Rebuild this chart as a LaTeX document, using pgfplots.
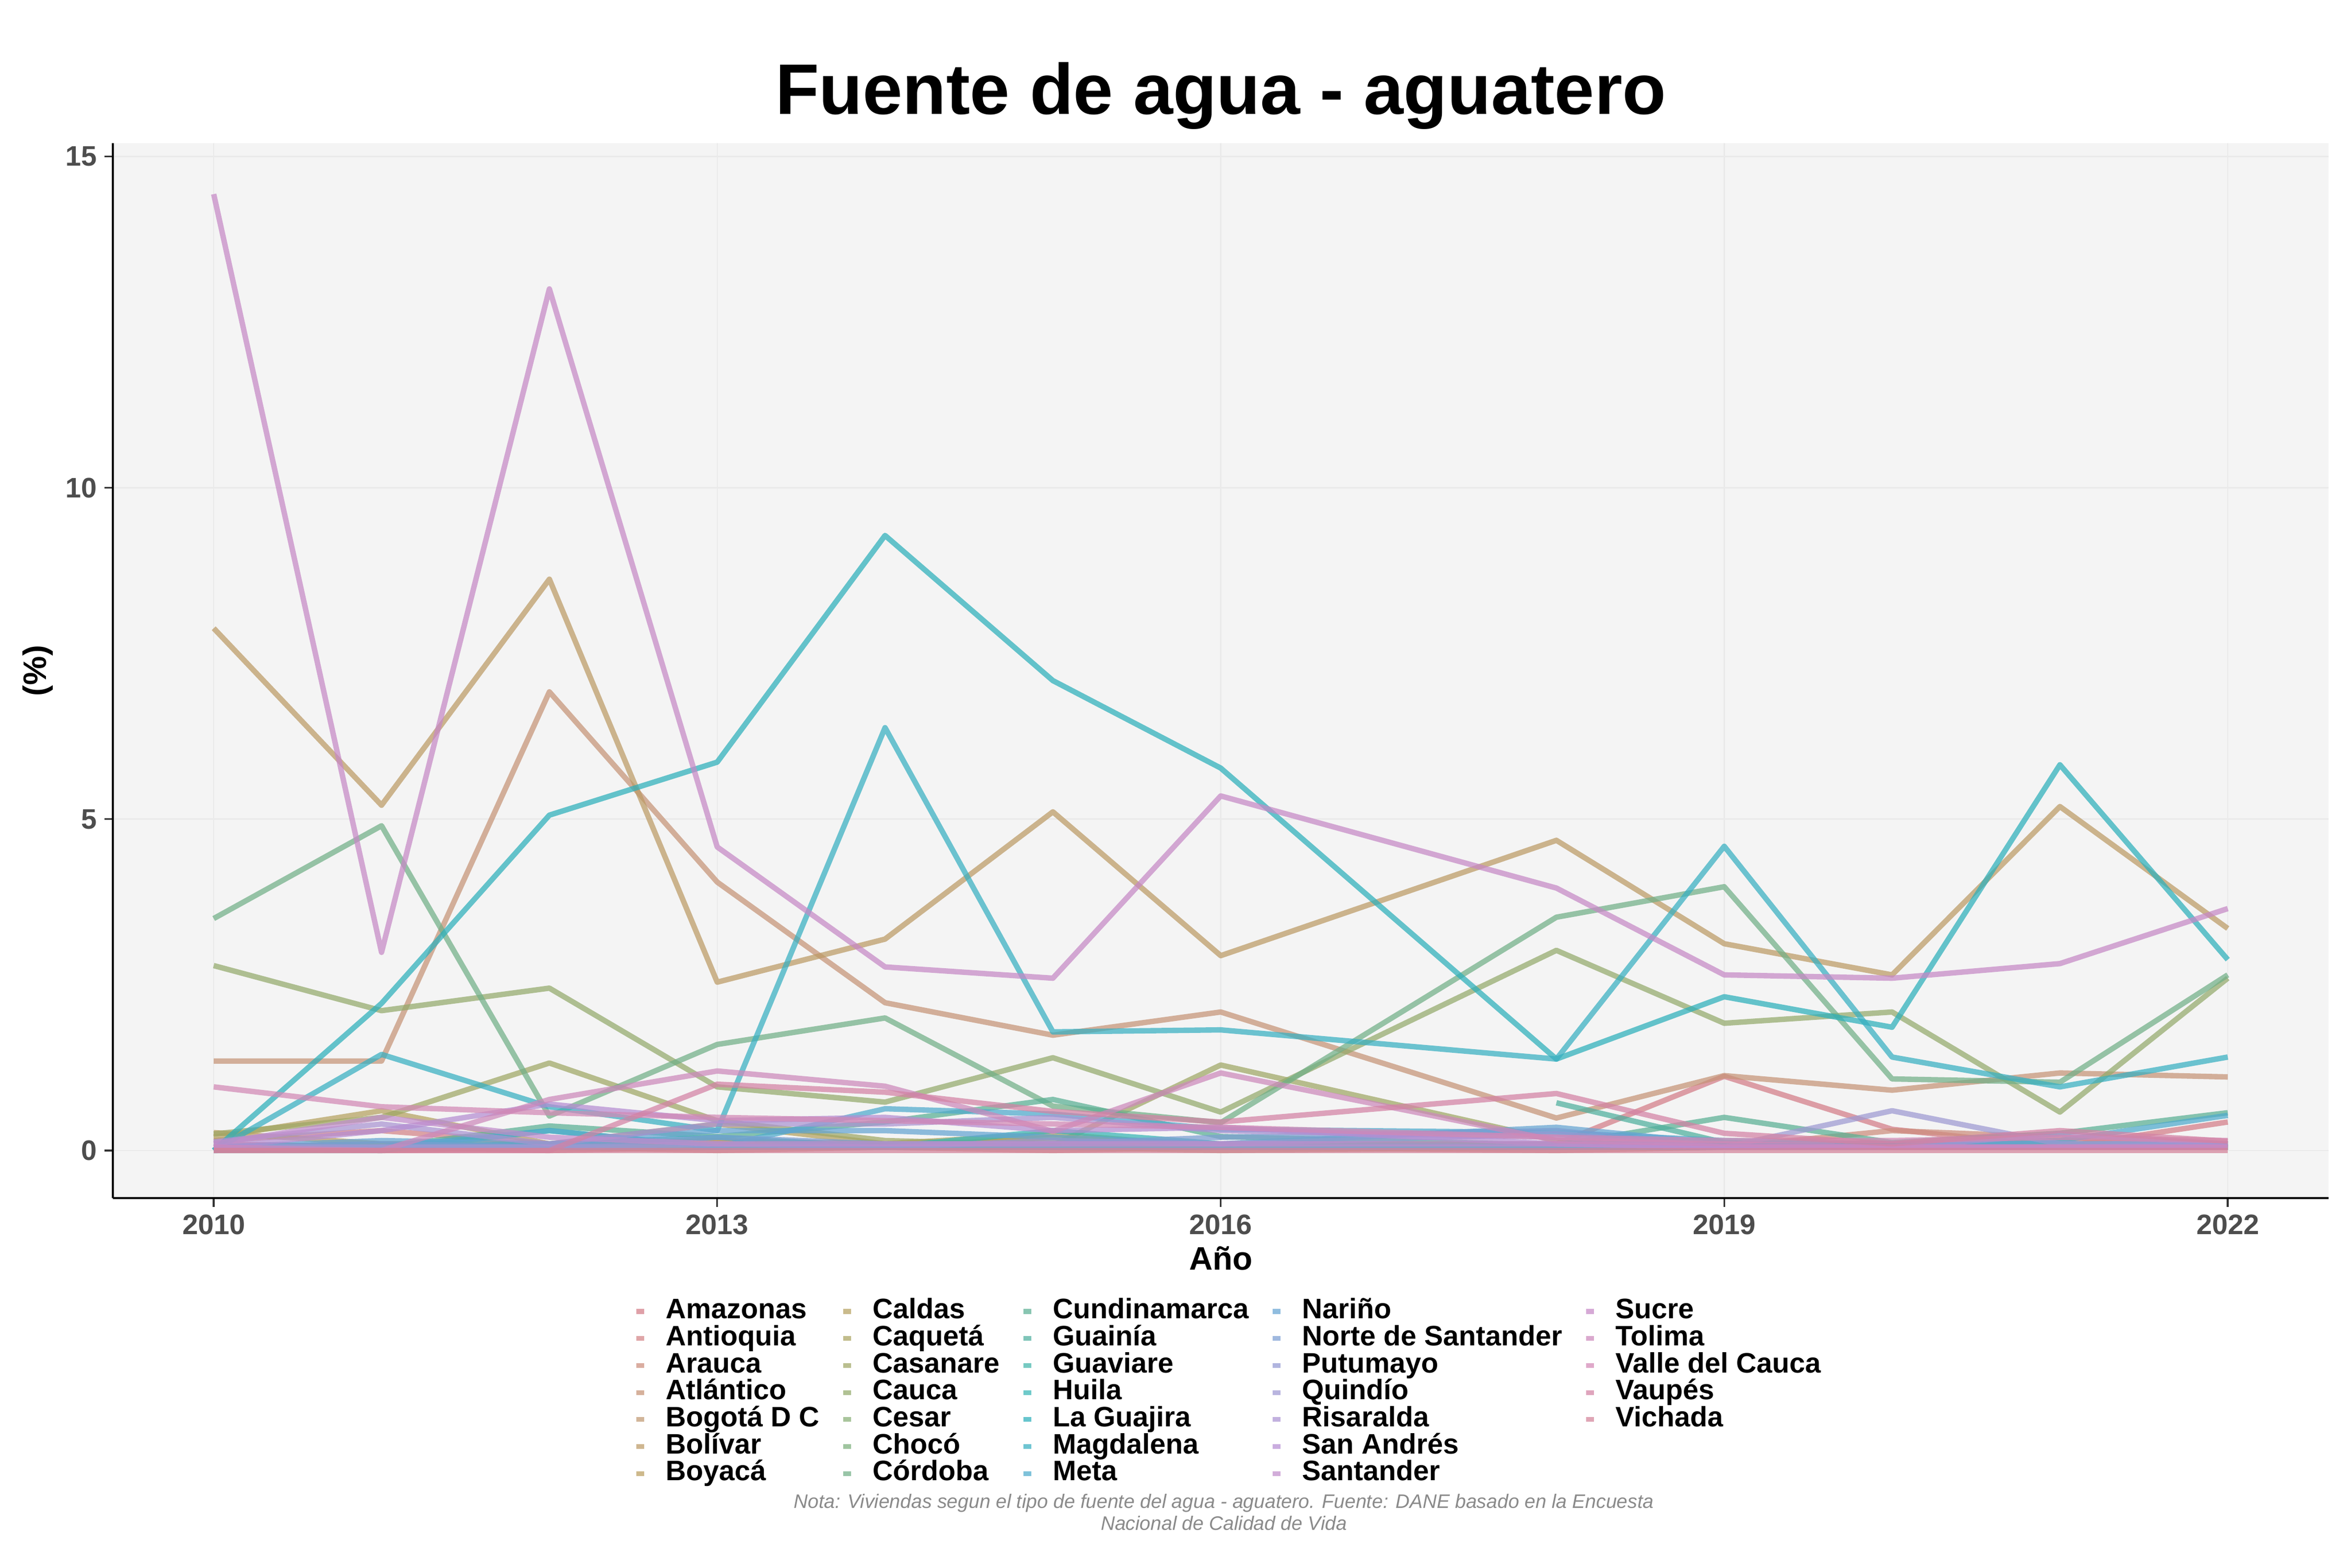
\documentclass[border=0pt]{standalone}
\usepackage{fontspec}
\setmainfont{Liberation Sans}
\usepackage{pgfplots}
\usepackage{pgfplotstable}
\pgfplotsset{compat=1.18}

\definecolor{panel}{HTML}{F4F4F4}
\definecolor{gridc}{HTML}{EAEAEA}
\definecolor{tickc}{HTML}{4D4D4D}
\definecolor{capc}{HTML}{8A8A8A}
% one colour per departamento, in legend order
\definecolor{c1}{HTML}{D37C87}
\definecolor{c2}{HTML}{D38387}
\definecolor{c3}{HTML}{CC8D7C}
\definecolor{c4}{HTML}{C69376}
\definecolor{c5}{HTML}{C19971}
\definecolor{c6}{HTML}{BC9A65}
\definecolor{c7}{HTML}{BB9E5F}
\definecolor{c8}{HTML}{B5A15F}
\definecolor{c9}{HTML}{AAA45F}
\definecolor{c10}{HTML}{9FA765}
\definecolor{c11}{HTML}{93AA6B}
\definecolor{c12}{HTML}{88AF76}
\definecolor{c13}{HTML}{7CAF7C}
\definecolor{c14}{HTML}{71AF87}
\definecolor{c15}{HTML}{5AAF93}
\definecolor{c16}{HTML}{4EAF9E}
\definecolor{c17}{HTML}{43B5AA}
\definecolor{c18}{HTML}{37B5B5}
\definecolor{c19}{HTML}{2CAFBB}
\definecolor{c20}{HTML}{37AFC1}
\definecolor{c21}{HTML}{4EAACC}
\definecolor{c22}{HTML}{65A4D2}
\definecolor{c23}{HTML}{7C9ED2}
\definecolor{c24}{HTML}{9399D2}
\definecolor{c25}{HTML}{9E99D2}
\definecolor{c26}{HTML}{AA93D2}
\definecolor{c27}{HTML}{B58DD2}
\definecolor{c28}{HTML}{C18DCC}
\definecolor{c29}{HTML}{C688C6}
\definecolor{c30}{HTML}{CC88BB}
\definecolor{c31}{HTML}{D288B5}
\definecolor{c32}{HTML}{D382A4}
\definecolor{c33}{HTML}{D38299}

% porcentaje de viviendas con fuente aguatero (no hay dato 2017)
\pgfplotstableread{
year Amaz Antq Arau Atla Bogo Boli Boya Cald Caqu Casa Cauc Cesa Choc Cord Cund Guai Guav Huil LaGu Magd Meta Nari NdeS Putu Quin Risa SanA Sant Sucr Toli Vall Vaup Vich
2010 0.10 0.15 0.05 1.35 0.05 7.88 0.27 0.20 0.05 0.25 2.79 0.05 0.05 3.50 0.05 nan 0.00 0.05 0.00 0.00 0.00 0.05 0.05 0.05 0.05 0.13 0.05 0.10 14.43 0.05 0.96 0.00 0.00
2011 0.05 0.30 0.00 1.35 0.05 5.21 0.10 0.60 0.05 0.50 2.11 0.10 0.05 4.90 0.05 nan 0.00 0.05 2.22 1.45 0.05 0.15 0.10 0.05 0.05 0.40 0.30 0.50 2.99 0.00 0.66 0.00 0.00
2012 0.00 0.10 0.05 6.92 0.05 8.62 0.10 0.10 0.05 1.32 2.45 0.05 0.05 0.52 0.37 nan 0.30 0.10 5.06 0.66 0.30 0.10 0.05 0.05 0.05 0.10 0.70 0.20 13.00 0.77 0.57 0.00 0.00
2013 0.05 0.15 0.00 4.05 0.05 2.54 0.15 0.40 0.10 0.45 0.96 0.05 0.05 1.60 0.21 nan 0.05 0.20 5.86 0.30 0.05 0.30 0.20 0.10 0.05 0.40 0.45 0.10 4.58 1.20 0.50 1.00 0.00
2014 0.05 0.10 0.05 2.23 0.05 3.19 0.05 0.10 0.10 0.15 0.73 0.05 0.05 2.00 0.43 nan 0.10 0.05 9.28 6.38 0.63 0.30 0.10 0.05 0.05 0.40 0.50 0.10 2.77 0.97 0.45 0.88 0.00
2015 0.05 0.10 0.00 1.74 0.05 5.11 0.20 0.15 0.25 0.08 1.40 0.05 0.05 0.67 0.77 nan 0.05 0.30 7.09 1.79 0.55 0.20 0.10 0.15 0.05 0.50 0.30 0.10 2.60 0.29 0.40 0.59 0.00
2016 0.05 0.10 0.05 2.09 0.00 2.94 0.08 0.05 0.05 1.29 0.58 0.05 0.05 0.42 0.21 nan 0.05 0.10 5.77 1.82 0.32 0.10 0.20 0.10 0.05 0.30 0.35 0.10 5.35 1.17 0.35 0.43 0.00
2018 0.10 0.10 0.00 0.49 0.05 4.68 0.10 0.10 0.05 0.15 3.02 0.10 0.05 3.52 0.08 0.72 0.05 0.05 1.38 1.38 0.27 0.35 0.30 0.25 0.05 0.20 0.10 0.10 3.96 0.15 0.20 0.86 0.00
2019 1.12 0.10 0.05 1.13 0.05 3.12 0.05 0.05 0.05 0.08 1.92 0.10 0.05 3.98 0.50 0.12 0.05 0.05 2.32 4.59 0.15 0.10 0.05 0.05 0.05 0.05 0.05 0.05 2.65 0.10 0.15 0.26 0.00
2020 0.32 0.10 0.30 0.91 0.05 2.65 0.05 0.05 0.05 0.05 2.09 0.10 0.05 1.08 0.12 0.05 0.05 0.05 1.86 1.41 0.10 0.10 0.05 0.05 0.60 0.05 0.05 0.05 2.60 0.05 0.15 0.10 0.00
2021 0.05 0.15 0.20 1.17 0.05 5.19 0.05 0.05 0.05 0.05 0.58 0.10 0.05 1.03 0.26 0.05 0.05 0.05 5.82 0.96 0.15 0.10 0.05 0.05 0.10 0.25 0.05 0.05 2.82 0.05 0.20 0.30 0.00
2022 0.43 0.10 0.10 1.11 0.05 3.35 0.05 0.05 0.05 0.05 2.60 0.10 0.05 2.65 0.57 0.05 0.05 0.05 2.88 1.41 0.53 0.10 0.05 0.10 0.10 0.10 0.05 0.05 3.65 0.05 0.15 0.14 0.00
}\datos

\newcommand\serie[3]{%
  \addplot[draw=#2, line width=2.5pt, opacity=0.72, line join=round, mark=none]
    table[x=year, y=#1] {\datos};
  \addlegendentry{#3}}

\begin{document}
\begin{tikzpicture}
\begin{axis}[
    scale only axis,
    width=14.135in, height=6.731in,
    xmin=2009.4, xmax=2022.6,
    ymin=-0.72, ymax=15.2,
    axis x line*=bottom, axis y line*=left,
    axis line style={black, line width=1pt, -},
    axis background/.style={fill=panel},
    xtick={2010,2013,2016,2019,2022},
    xticklabels={2010,2013,2016,2019,2022},
    ytick={0,5,10,15},
    yticklabels={0,5,10,15},
    tick align=outside,
    major tick length=4pt,
    tick style={black!80, line width=0.8pt},
    grid=major,
    major grid style={draw=gridc, line width=0.6pt},
    ticklabel style={font=\bfseries\fontsize{13}{13}\selectfont, text=tickc},
    xlabel={Año}, ylabel={(\%)},
    label style={font=\bfseries\fontsize{15}{15}\selectfont},
    xlabel style={at={(axis description cs:0.5,0)}, anchor=center, yshift=-0.385in},
    ylabel style={at={(axis description cs:0,0.5)}, anchor=center, yshift=0.48in},
    unbounded coords=jump,
    legend columns=7,
    transpose legend,
    legend cell align=left,
    legend image code/.code={\draw[#1, line width=2.2pt] (0in,0in) -- (0.05in,0in);},
    legend style={
        at={(0.503,-0.090)}, anchor=north,
        draw=none, fill=none,
        font=\bfseries\fontsize{13}{13}\selectfont,
        row sep=0pt,
        nodes={inner xsep=0pt, inner ysep=0pt, text height=9.5pt, text depth=2.96pt},
        /tikz/every odd column/.append style={column sep=9pt},
        /tikz/every even column/.append style={column sep=9.8pt},
    },
]
\serie{Amaz}{c1}{Amazonas}
\serie{Antq}{c2}{Antioquia}
\serie{Arau}{c3}{Arauca}
\serie{Atla}{c4}{Atlántico}
\serie{Bogo}{c5}{Bogotá D C}
\serie{Boli}{c6}{Bolívar}
\serie{Boya}{c7}{Boyacá}
\serie{Cald}{c8}{Caldas}
\serie{Caqu}{c9}{Caquetá}
\serie{Casa}{c10}{Casanare}
\serie{Cauc}{c11}{Cauca}
\serie{Cesa}{c12}{Cesar}
\serie{Choc}{c13}{Chocó}
\serie{Cord}{c14}{Córdoba}
\serie{Cund}{c15}{Cundinamarca}
\serie{Guai}{c16}{Guainía}
\serie{Guav}{c17}{Guaviare}
\serie{Huil}{c18}{Huila}
\serie{LaGu}{c19}{La Guajira}
\serie{Magd}{c20}{Magdalena}
\serie{Meta}{c21}{Meta}
\serie{Nari}{c22}{Nariño}
\serie{NdeS}{c23}{Norte de Santander}
\serie{Putu}{c24}{Putumayo}
\serie{Quin}{c25}{Quindío}
\serie{Risa}{c26}{Risaralda}
\serie{SanA}{c27}{San Andrés}
\serie{Sant}{c28}{Santander}
\serie{Sucr}{c29}{Sucre}
\serie{Toli}{c30}{Tolima}
\serie{Vall}{c31}{Valle del Cauca}
\serie{Vaup}{c32}{Vaupés}
\serie{Vich}{c33}{Vichada}
% two empty slots so the 5 x 7 legend fills column by column
\addlegendimage{empty legend}\addlegendentry{}
\addlegendimage{empty legend}\addlegendentry{}
\end{axis}

\node[anchor=base, font=\bfseries\fontsize{33}{33}\selectfont]
  at ([yshift=0.183in]current axis.north) {Fuente de agua - aguatero};
\node[anchor=base, align=center, text=capc, font=\itshape\fontsize{9}{10}\selectfont]
  at ([xshift=0.02in, yshift=-2.116in]current axis.south)
  {Nota: Viviendas segun el tipo de fuente del agua - aguatero. Fuente: DANE basado en la Encuesta\\Nacional de Calidad de Vida};

\pgfresetboundingbox
\path[use as bounding box]
  ([shift={(-0.721in,-2.356in)}]current axis.south west)
  rectangle ([shift={(0.144in,0.913in)}]current axis.north east);
\end{tikzpicture}
\end{document}
